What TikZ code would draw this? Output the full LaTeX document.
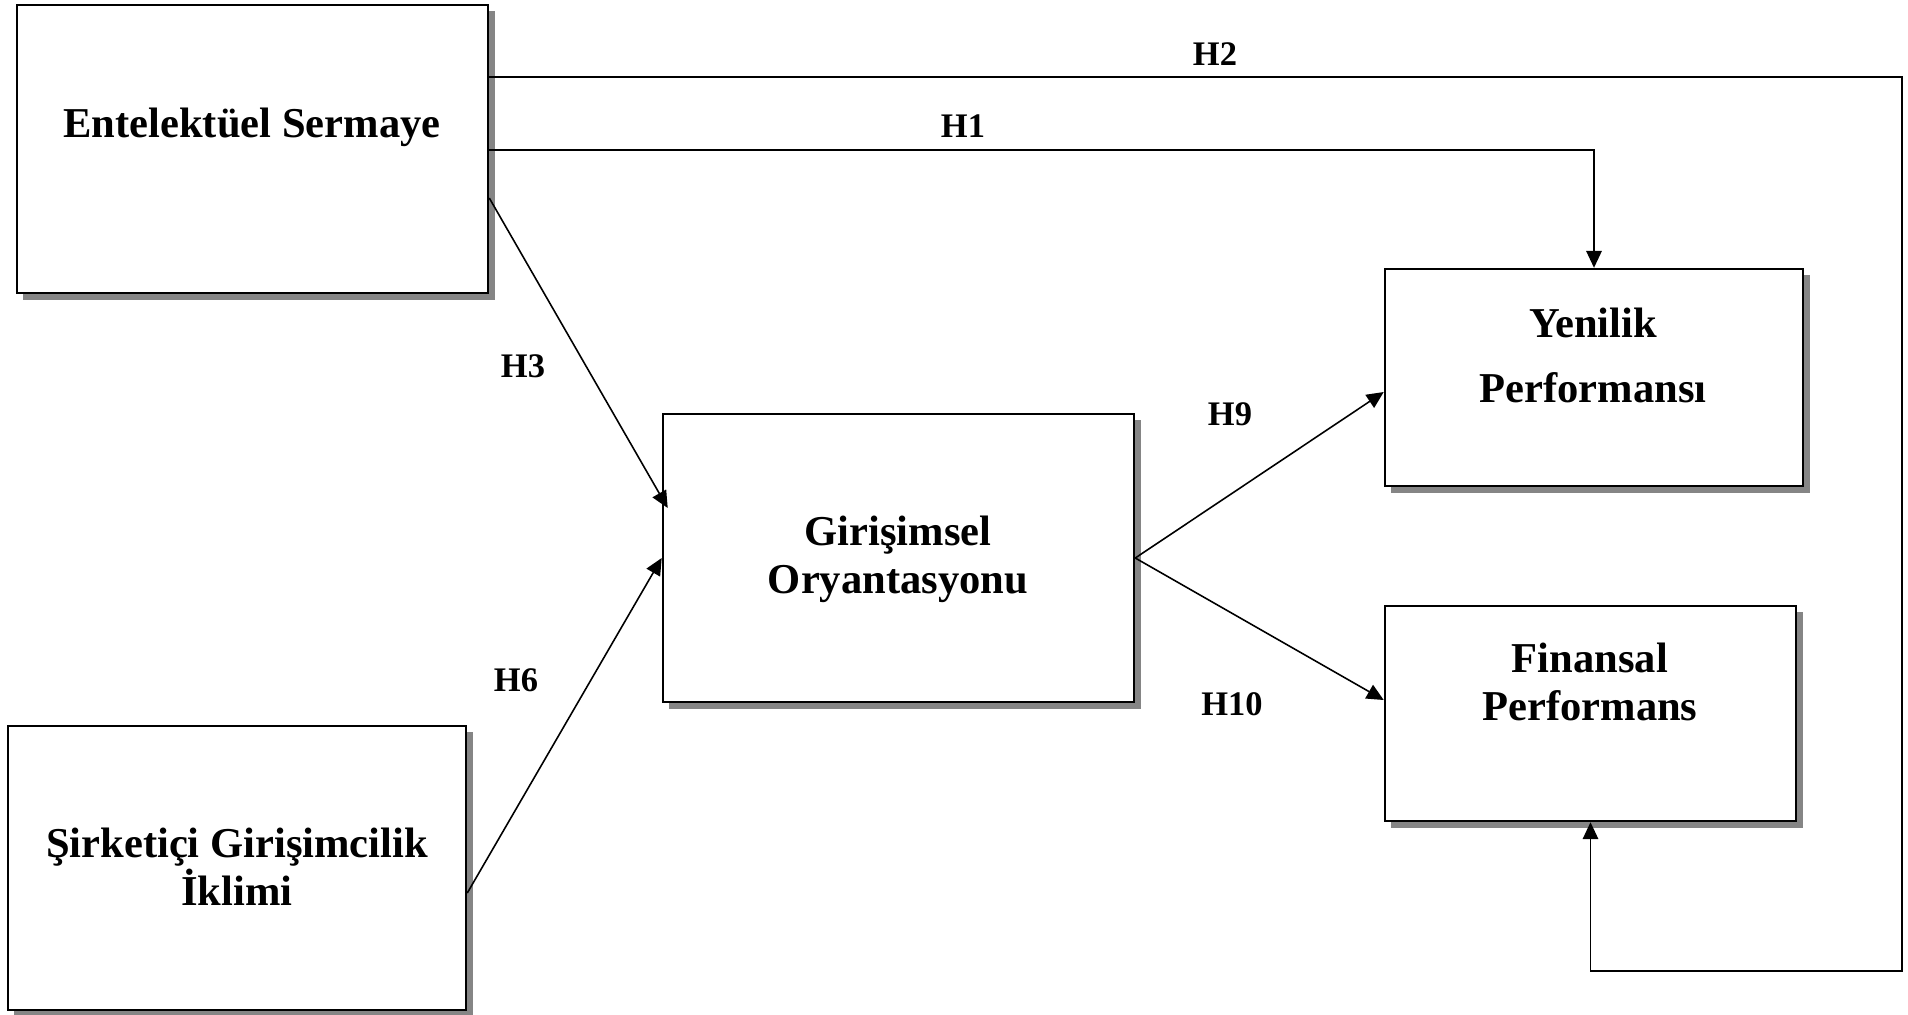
\documentclass[tikz,border=0pt]{standalone}
\usepackage{fontspec}
\setmainfont{Liberation Serif}
\usetikzlibrary{arrows.meta,shadows}
\begin{document}
\begin{tikzpicture}[x=0.01cm,y=-0.01cm,
  box/.style={draw=black,line width=0.65pt,fill=white,inner sep=0pt,
    drop shadow={shadow xshift=0.065cm,shadow yshift=-0.065cm,fill=black!48,opacity=1}},
  boxtext/.style={anchor=base,inner sep=0pt,font=\fontsize{12.1}{14}\selectfont\bfseries},
  hlabel/.style={anchor=base,inner sep=0pt,font=\fontsize{9.8}{12}\selectfont\bfseries},
  conn/.style={draw=black,line width=0.45pt,-{Triangle[length=4.8pt,width=4.4pt]}},
  plain/.style={draw=black,line width=0.45pt}]
\useasboundingbox (0,0) rectangle (1908,1014);

% boxes
\node[box,minimum width=4.71cm,minimum height=2.88cm] (es) at (252.5,149) {};
\node[box,minimum width=4.58cm,minimum height=2.84cm] (si) at (237,868) {};
\node[box,minimum width=4.71cm,minimum height=2.88cm] (gi) at (898.5,558) {};
\node[box,minimum width=4.18cm,minimum height=2.17cm] (yp) at (1594,377.5) {};
\node[box,minimum width=4.11cm,minimum height=2.15cm] (fp) at (1590.5,713.5) {};

% box texts
\node[boxtext] (es1) at (252,137) {Entelektüel Sermaye};
\node[boxtext] (si1) at (237,857) {Şirketiçi Girişimcilik};
\node[boxtext] (si2) at (237,905) {İklimi};
\node[boxtext] (gi1) at (898,545) {Girişimsel};
\node[boxtext] (gi2) at (898,593) {Oryantasyonu};
\node[boxtext] (yp1) at (1593,337) {Yenilik};
\node[boxtext] (yp2) at (1593,402) {Performansı};
\node[boxtext] (fp1) at (1590,672) {Finansal};
\node[boxtext] (fp2) at (1590,720) {Performans};

% corner points of the H2 return path
\coordinate (r1) at (1902,77);
\coordinate (r2) at (1902,971);

% connectors
\draw[conn] (es.east |- 0,77) -- (r1) -- (r2) -| (fp.south);
\draw[conn] (es.east |- 0,150) -| (yp.north);
\draw[conn] (es.east |- 0,198) -- ([shift={(6,-50)}]gi.west);
\draw[conn] (si.east |- 0,893) -- (gi.west);
\draw[conn] (gi.east) -- (yp.west |- 0,392);
\draw[conn] (gi.east) -- (fp.west |- 0,700);

% hypothesis labels
\node[hlabel] (h2) at (1215,65) {H2};
\node[hlabel] (h1) at (963,137) {H1};
\node[hlabel] (h3) at (523,377) {H3};
\node[hlabel] (h6) at (516,691) {H6};
\node[hlabel] (h9) at (1230,425) {H9};
\node[hlabel] (h10) at (1232,715) {H10};
\end{tikzpicture}
\end{document}
